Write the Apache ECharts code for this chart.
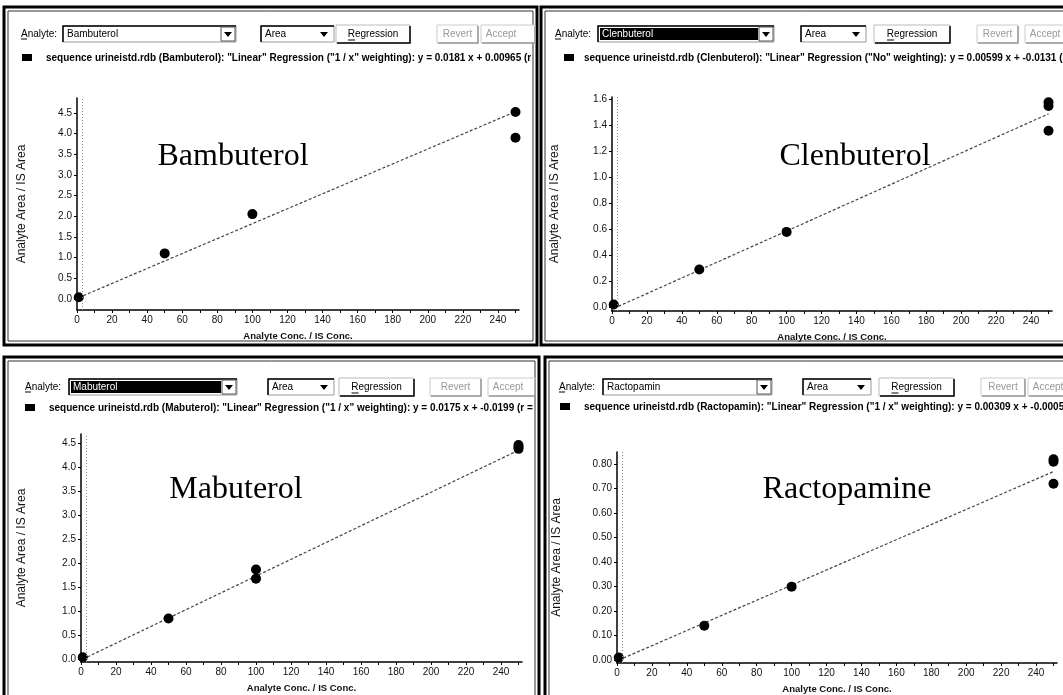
<!DOCTYPE html>
<html>
<head>
<meta charset="utf-8">
<title>Calibration curves</title>
<script src="https://cdn.jsdelivr.net/npm/echarts@6.0.0/dist/echarts.min.js"></script>
<style>
  html, body { margin: 0; padding: 0; background: #fff; }
  #chart { width: 1063px; height: 695px; }
</style>
</head>
<body>
<div id="chart"></div>
<script>
// calibration points (conc. ratio, area ratio)
const bambuterolPoints = [[1, 0.04], [50, 1.1], [100, 2.05], [250, 4.52], [250, 3.9]];
const clenbuterolPoints = [[1, 0.02], [50, 0.29], [100, 0.58], [250, 1.58], [250, 1.55], [250, 1.36]];
const mabuterolPoints = [[1, 0.04], [50, 0.85], [100, 1.87], [100, 1.68], [250, 4.47], [250, 4.43], [250, 4.39]];
const ractopaminePoints = [[1, 0.01], [50, 0.14], [100, 0.30], [250, 0.82], [250, 0.81], [250, 0.72]];

// ends of the dashed regression lines
const bambuterolFit = [[1, 0.03], [250, 4.53]];
const clenbuterolFit = [[1, -0.01], [250, 1.49]];
const mabuterolFit = [[1, 0.0], [250, 4.36]];
const ractopamineFit = [[1, 0.0], [250, 0.77]];

// tick labels
const xTickLabels = [0, 20, 40, 60, 80, 100, 120, 140, 160, 180, 200, 220, 240];
const xTickMarks = [0, 10, 20, 30, 40, 50, 60, 70, 80, 90, 100, 110, 120, 130, 140, 150, 160, 170, 180, 190, 200, 210, 220, 230, 240, 250];
const yTicksHalf = [0, 0.5, 1, 1.5, 2, 2.5, 3, 3.5, 4, 4.5];
const yTicksClen = [0, 0.2, 0.4, 0.6, 0.8, 1.0, 1.2, 1.4, 1.6];
const yTicksRacto = [0, 0.1, 0.2, 0.3, 0.4, 0.5, 0.6, 0.7, 0.8];

// texts
const analyteNames = ['Bambuterol', 'Clenbuterol', 'Mabuterol', 'Ractopamin'];
const bigLabels = ['Bambuterol', 'Clenbuterol', 'Mabuterol', 'Ractopamine'];
const legendTexts = [
  'sequence urineistd.rdb (Bambuterol): "Linear" Regression ("1 / x" weighting): y = 0.0181 x + 0.00965 (r',
  'sequence urineistd.rdb (Clenbuterol): "Linear" Regression ("No" weighting): y = 0.00599 x + -0.0131 (r =',
  'sequence urineistd.rdb (Mabuterol): "Linear" Regression ("1 / x" weighting): y = 0.0175 x + -0.0199 (r =',
  'sequence urineistd.rdb (Ractopamin): "Linear" Regression ("1 / x" weighting): y = 0.00309 x + -0.0005'
];

const SANS = '"Liberation Sans", Arial, sans-serif';
const SERIF = '"Liberation Serif", "Times New Roman", serif';

// layout of the four panels
const panels = [
  { points: bambuterolPoints, fit: bambuterolFit, yTicks: yTicksHalf, dec: 1,
    grid: { left: 77, top: 98, width: 442, height: 212 }, yMin: -0.27, yMax: 4.86, nameGap: 49,
    frame: [4, 7, 533, 338], label: [233, 157], selected: false, clipW: 531,
    hdr: { an: 21, combo: [63, 236], area: [261, 334], reg: [336, 410], rev: [437, 478], acc: [481, 535], row: 34, sq: 22, lg: 46, lgY: 58 } },
  { points: clenbuterolPoints, fit: clenbuterolFit, yTicks: yTicksClen, dec: 1,
    grid: { left: 612, top: 97, width: 440, height: 214 }, yMin: -0.03, yMax: 1.62, nameGap: 51,
    frame: [541, 7, 530, 338], label: [855, 157], selected: true, clipW: 1063,
    hdr: { an: 555, combo: [598, 774], area: [801, 866], reg: [874, 950], rev: [977, 1018], acc: [1025, 1070], row: 34, sq: 564, lg: 584, lgY: 58 } },
  { points: mabuterolPoints, fit: mabuterolFit, yTicks: yTicksHalf, dec: 1,
    grid: { left: 81, top: 434, width: 441, height: 228 }, yMin: -0.06, yMax: 4.7, nameGap: 53,
    frame: [4, 357, 535, 345], label: [236, 490], selected: true, clipW: 533,
    hdr: { an: 25, combo: [69, 237], area: [268, 334], reg: [339, 414], rev: [430, 481], acc: [488, 535], row: 387, sq: 25, lg: 49, lgY: 408 } },
  { points: ractopaminePoints, fit: ractopamineFit, yTicks: yTicksRacto, dec: 2,
    grid: { left: 617, top: 452, width: 440, height: 211 }, yMin: -0.012, yMax: 0.85, nameGap: 54,
    frame: [545, 357, 525, 345], label: [847, 490], selected: false, clipW: 1063,
    hdr: { an: 559, combo: [603, 772], area: [803, 871], reg: [879, 954], rev: [981, 1025], acc: [1028, 1070], row: 387, sq: 560, lg: 584, lgY: 407 } }
];

function arrow(cx, cy) {
  return { type: 'polygon', shape: { points: [[cx - 4, cy - 2], [cx + 4, cy - 2], [cx, cy + 3]] }, style: { fill: '#000' }, z: 5 };
}

// a raised windows-style button
function button(x0, x1, y0, label, cx, enabled) {
  const ink = enabled ? '#000' : '#999';
  return [
    { type: 'rect', shape: { x: x0, y: y0, width: x1 - x0, height: 18 }, style: { fill: '#fff', stroke: enabled ? '#bbb' : '#ccc', lineWidth: 1 }, z: 4 },
    { type: 'polyline', shape: { points: [[x0 + 1, y0 + 18], [x1, y0 + 18], [x1, y0 + 1]] }, style: { stroke: ink, lineWidth: 1.5, fill: 'none' }, z: 4 },
    { type: 'text', style: { text: label, x: cx, y: y0 + 9, font: '10px ' + SANS, fill: ink, align: 'center', verticalAlign: 'middle' }, z: 5 }
  ];
}

// a sunken combo box
function combo(x0, x1, y0) {
  return [
    { type: 'rect', shape: { x: x0, y: y0, width: x1 - x0, height: 16 }, style: { fill: '#fff', stroke: '#999', lineWidth: 1 }, z: 4 },
    { type: 'polyline', shape: { points: [[x0, y0 + 16], [x0, y0], [x1, y0]] }, style: { stroke: '#000', lineWidth: 1.5, fill: 'none' }, z: 4 }
  ];
}

function headerGraphics(p, i) {
  const h = p.hdr;
  const y0 = h.row - 8;
  const els = [];
  const [fx, fy, fw, fh] = p.frame;
  els.push({ type: 'rect', shape: { x: fx, y: fy, width: fw, height: fh }, style: { fill: 'none', stroke: '#000', lineWidth: 3 }, z: 1 });
  els.push({ type: 'rect', shape: { x: fx + 4, y: fy + 4, width: fw - 8, height: fh - 8 }, style: { fill: 'none', stroke: '#333', lineWidth: 1 }, z: 1 });

  els.push({ type: 'text', style: { text: 'Analyte:', x: h.an, y: h.row, font: '10px ' + SANS, fill: '#000', verticalAlign: 'middle' }, z: 5 });
  els.push({ type: 'line', shape: { x1: h.an, y1: h.row + 5, x2: h.an + 6, y2: h.row + 5 }, style: { stroke: '#000', lineWidth: 1 }, z: 5 });
  // analyte combo box
  els.push(...combo(h.combo[0], h.combo[1], y0));
  if (p.selected) {
    els.push({ type: 'rect', shape: { x: h.combo[0] + 2, y: y0 + 2, width: h.combo[1] - h.combo[0] - 18, height: 12 }, style: { fill: '#000' }, z: 4 });
  }
  els.push({ type: 'text', style: { text: analyteNames[i], x: h.combo[0] + 4, y: h.row, font: '10px ' + SANS, fill: p.selected ? '#fff' : '#000', verticalAlign: 'middle' }, z: 5 });
  els.push({ type: 'rect', shape: { x: h.combo[1] - 15, y: y0 + 1, width: 14, height: 14 }, style: { fill: '#fff', stroke: '#555', lineWidth: 1 }, z: 4 });
  els.push(arrow(h.combo[1] - 8, h.row));
  // "Area" combo box
  els.push(...combo(h.area[0], h.area[1], y0));
  els.push({ type: 'text', style: { text: 'Area', x: h.area[0] + 4, y: h.row, font: '10px ' + SANS, fill: '#000', verticalAlign: 'middle' }, z: 5 });
  els.push(arrow(h.area[1] - 10, h.row));
  // buttons
  const rc = (h.reg[0] + h.reg[1]) / 2;
  els.push(...button(h.reg[0], h.reg[1], y0 - 1, 'Regression', rc, true));
  els.push({ type: 'line', shape: { x1: rc - 25, y1: h.row + 6, x2: rc - 18, y2: h.row + 6 }, style: { stroke: '#000', lineWidth: 1 }, z: 5 });
  els.push(...button(h.rev[0], h.rev[1], y0 - 1, 'Revert', (h.rev[0] + h.rev[1]) / 2, false));
  els.push(...button(h.acc[0], h.acc[1], y0 - 1, 'Accept', h.acc[0] + 20, false));
  // legend row, cut at the panel edge
  els.push({ type: 'rect', shape: { x: h.sq, y: h.lgY - 4, width: 10, height: 7 }, style: { fill: '#000' }, z: 5 });
  els.push({
    type: 'group', z: 5,
    clipPath: { type: 'rect', shape: { x: 0, y: 0, width: p.clipW, height: 695 } },
    children: [{ type: 'text', style: { text: legendTexts[i], x: h.lg, y: h.lgY, font: 'bold 10px ' + SANS, fill: '#000', verticalAlign: 'middle' } }]
  });
  // big analyte label
  els.push({ type: 'text', style: { text: bigLabels[i], x: p.label[0], y: p.label[1], font: '32px ' + SERIF, fill: '#000', align: 'center', verticalAlign: 'middle' }, z: 5 });
  return els;
}

const grids = [], xAxes = [], yAxes = [], series = [], graphics = [];
panels.forEach((p, i) => {
  grids.push(Object.assign({ containLabel: false }, p.grid));
  xAxes.push({
    gridIndex: i, type: 'value', min: 0, max: 252,
    name: 'Analyte Conc. / IS Conc.', nameLocation: 'middle', nameGap: 21,
    nameTextStyle: { fontFamily: SANS, fontSize: 9.5, fontWeight: 'bold', color: '#111' },
    axisLine: { onZero: false, lineStyle: { color: '#000', width: 1.5 } },
    axisTick: { customValues: xTickMarks, length: 3, lineStyle: { color: '#000' } },
    axisLabel: { customValues: xTickLabels, fontFamily: SANS, fontSize: 10, color: '#111', margin: 5 },
    splitLine: { show: false }
  });
  yAxes.push({
    gridIndex: i, type: 'value', min: p.yMin, max: p.yMax,
    name: 'Analyte Area / IS Area', nameLocation: 'middle', nameGap: p.nameGap, nameRotate: 90,
    nameTextStyle: { fontFamily: SANS, fontSize: 12, color: '#111' },
    axisLine: { onZero: false, lineStyle: { color: '#000', width: 1.5 } },
    axisTick: { customValues: p.yTicks, length: 3, lineStyle: { color: '#000' } },
    axisLabel: { customValues: p.yTicks, fontFamily: SANS, fontSize: 10, color: '#111', margin: 5,
      formatter: v => v.toFixed(p.dec) },
    splitLine: { show: false }
  });
  series.push({
    type: 'line', xAxisIndex: i, yAxisIndex: i, data: p.fit, showSymbol: false, silent: true,
    lineStyle: { color: '#444', width: 1.2, type: [3, 2] },
    markLine: {
      silent: true, symbol: 'none', label: { show: false },
      lineStyle: { color: '#888', width: 1, type: [1, 2] },
      data: [{ xAxis: 3 }]
    },
    z: 2
  });
  series.push({
    type: 'scatter', xAxisIndex: i, yAxisIndex: i, data: p.points,
    symbol: 'circle', symbolSize: 10, itemStyle: { color: '#000', opacity: 1 }, z: 3
  });
  graphics.push(...headerGraphics(p, i));
});

const chart = echarts.init(document.getElementById('chart'), null, { renderer: 'canvas' });
chart.setOption({
  backgroundColor: '#fff',
  animation: false,
  grid: grids,
  xAxis: xAxes,
  yAxis: yAxes,
  series: series,
  graphic: { elements: graphics }
});
</script>
</body>
</html>
